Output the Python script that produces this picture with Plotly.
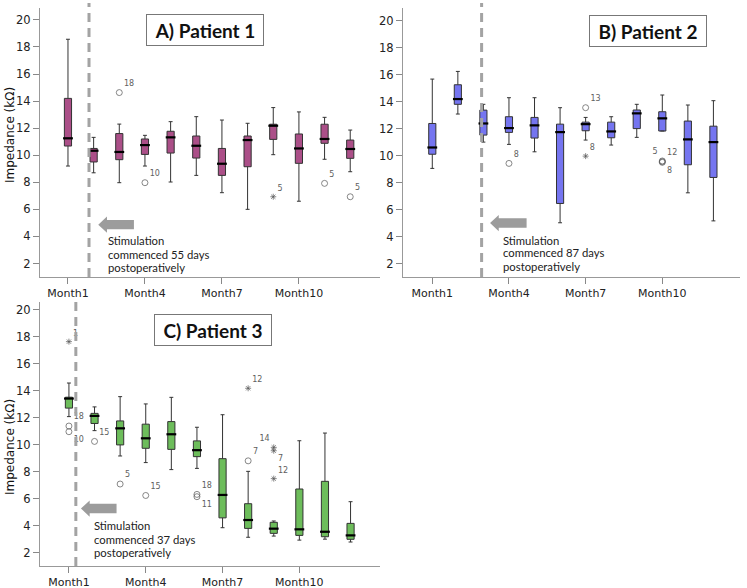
import plotly.graph_objects as go

W, H = 747, 588

months = ["Month1", "Month2", "Month3", "Month4", "Month5", "Month6",
          "Month7", "Month8", "Month9", "Month10", "Month11", "Month12"]
tick_months = ["Month1", "Month4", "Month7", "Month10"]
y_ticks = [2, 4, 6, 8, 10, 12, 14, 16, 18, 20]

# ---- Patient 1 ----
p1_q1 = [10.68, 9.50, 9.67, 10.06, 10.16, 9.79, 8.51, 9.15, 11.17, 9.40, 10.88, 9.77]
p1_med = [11.25, 10.33, 10.24, 10.75, 11.32, 10.70, 9.37, 11.12, 12.18, 10.50, 11.20, 10.46]
p1_q3 = [14.20, 10.50, 11.60, 11.20, 11.77, 11.42, 10.50, 11.42, 12.29, 11.57, 12.29, 11.12]
p1_lo = [9.20, 8.70, 7.97, 9.20, 8.02, 8.51, 7.23, 6.00, 10.04, 6.60, 9.70, 8.78]
p1_hi = [18.57, 11.32, 12.30, 11.47, 12.48, 12.85, 12.60, 12.36, 13.52, 13.20, 12.80, 11.86]
p1_out_month = ["Month3", "Month4", "Month9", "Month11", "Month12"]
p1_out_val = [14.63, 7.97, 6.93, 7.92, 6.93]
p1_out_lab = ["18", "10", "5", "5", "5"]
p1_out_sym = ["o", "o", "*", "o", "o"]
p1_out_pos = ["top right"] * 5

# ---- Patient 2 ----
p2_q1 = [10.10, 13.80, 11.52, 11.72, 11.30, 6.45, 11.84, 11.32, 12.00, 11.82, 9.32, 8.38]
p2_med = [10.60, 14.19, 12.38, 12.04, 12.24, 11.74, 12.33, 11.79, 13.13, 12.76, 11.20, 11.00]
p2_q3 = [12.38, 15.25, 13.37, 12.88, 12.83, 12.33, 12.48, 12.48, 13.38, 13.25, 12.56, 12.18]
p2_lo = [9.05, 13.08, 11.00, 10.83, 10.28, 5.02, 11.15, 10.78, 11.35, 11.82, 7.24, 5.16]
p2_hi = [15.67, 16.24, 13.80, 14.29, 14.29, 13.55, 12.83, 12.88, 13.80, 14.49, 13.75, 14.07]
p2_out_month = ["Month4", "Month7", "Month7", "Month10", "Month10", "Month10"]
p2_out_val = [9.42, 13.55, 9.96, 9.60, 9.55, 9.50]
p2_out_lab = ["8", "13", "8", "5", "12", "8"]
p2_out_sym = ["o", "o", "*", "o", "o", "o"]
p2_out_pos = ["top right", "top right", "top right", "top left", "top right", "bottom right"]

# ---- Patient 3 ----
p3_q1 = [12.72, 11.58, 9.99, 9.74, 9.66, 9.12, 4.58, 3.80, 3.43, 3.28, 3.18, 2.99]
p3_med = [13.43, 12.14, 11.22, 10.48, 10.78, 9.60, 6.28, 4.42, 3.78, 3.73, 3.55, 3.28]
p3_q3 = [13.53, 12.33, 11.77, 11.53, 11.72, 10.29, 8.97, 5.63, 4.25, 6.72, 7.29, 4.17]
p3_lo = [12.09, 11.05, 9.17, 8.68, 8.16, 8.25, 3.85, 3.14, 3.23, 2.93, 3.00, 2.79]
p3_hi = [14.58, 12.81, 13.57, 13.03, 13.52, 11.30, 12.23, 8.03, 4.35, 10.30, 10.87, 5.78]
p3_out_month = ["Month1", "Month1", "Month1", "Month2", "Month3", "Month4", "Month6", "Month6",
                "Month8", "Month8", "Month9", "Month9", "Month9"]
p3_out_val = [17.65, 11.39, 10.97, 10.25, 7.09, 6.24, 6.32, 6.15, 8.81, 14.19, 9.81, 9.56, 7.49]
p3_out_lab = ["1", "18", "10", "15", "5", "15", "18", "11", "7", "12", "14", "7", "12"]
p3_out_sym = ["*", "o", "o", "o", "o", "o", "o", "o", "o", "*", "*", "*", "*"]
p3_out_pos = ["top right", "top right", "bottom right", "top right", "top right", "top right",
              "top right", "bottom right", "top right", "top right", "top left", "bottom right",
              "top right"]

panels = [
    dict(title="A) Patient 1", color="#ab4f88", q1=p1_q1, med=p1_med, q3=p1_q3, lo=p1_lo, hi=p1_hi,
         om=p1_out_month, ov=p1_out_val, ol=p1_out_lab, osym=p1_out_sym, opos=p1_out_pos,
         days=55, xa="x", ya="y"),
    dict(title="B) Patient 2", color="#7575f0", q1=p2_q1, med=p2_med, q3=p2_q3, lo=p2_lo, hi=p2_hi,
         om=p2_out_month, ov=p2_out_val, ol=p2_out_lab, osym=p2_out_sym, opos=p2_out_pos,
         days=87, xa="x2", ya="y2"),
    dict(title="C) Patient 3", color="#6dbd5b", q1=p3_q1, med=p3_med, q3=p3_q3, lo=p3_lo, hi=p3_hi,
         om=p3_out_month, ov=p3_out_val, ol=p3_out_lab, osym=p3_out_sym, opos=p3_out_pos,
         days=37, xa="x3", ya="y3"),
]

# layout geometry (pixels) per panel
geo = [
    dict(xd=(40, 380), xr=(-1.09, 12.16), yd=(277, 8), yr=(1.0, 20.88), vline=0.82, vtop=3,
         tbox=(205.5, 29.5), ytitle=135,
         arrow=dict(tip=1.18, hb=1.52, tail=2.57, yc=4.87), txt_x=1.48, txt_y=[3.68, 2.68, 1.72]),
    dict(xd=(403, 740), xr=(-1.146, 12.04), yd=(277, 8), yr=(1.0, 20.94), vline=1.93, vtop=3,
         tbox=(648, 30.8), ytitle=None,
         arrow=dict(tip=2.26, hb=2.60, tail=3.69, yc=5.0), txt_x=2.69, txt_y=[3.73, 2.78, 1.80]),
    dict(xd=(40, 380), xr=(-1.13, 12.15), yd=(566, 302), yr=(1.01, 20.59), vline=0.27, vtop=302,
         tbox=(213.3, 330.3), ytitle=447,
         arrow=dict(tip=0.47, hb=0.81, tail=1.86, yc=5.27), txt_x=0.89, txt_y=[3.98, 2.99, 2.0]),
]

fig = go.Figure()
xpos = {m: i for i, m in enumerate(months)}
layout = {}
shapes = []
annotations = []

sym_map = {"o": "circle-open", "*": "asterisk-open"}

for i, (p, g) in enumerate(zip(panels, geo)):
    xs = [xpos[m] for m in months]
    fig.add_trace(go.Box(
        x=xs, q1=p["q1"], median=p["med"], q3=p["q3"],
        lowerfence=p["lo"], upperfence=p["hi"],
        fillcolor=p["color"], line=dict(color="#333333", width=1),
        width=0.28, whiskerwidth=0.55, boxpoints=False,
        xaxis=p["xa"], yaxis=p["ya"], showlegend=False, hoverinfo="skip"))
    # thick median bars
    fig.add_trace(go.Scatter(
        x=xs, y=p["med"], mode="markers",
        marker=dict(symbol="line-ew", size=7, line=dict(color="#000000", width=2.2)),
        xaxis=p["xa"], yaxis=p["ya"], showlegend=False, hoverinfo="skip"))
    # outliers
    sizes = [5 if s == "*" else 6 for s in p["osym"]]
    fig.add_trace(go.Scatter(
        x=[xpos[m] for m in p["om"]], y=p["ov"], mode="markers+text",
        text=p["ol"], textposition=p["opos"],
        textfont=dict(family="DejaVu Sans", size=8, color="#606060"),
        marker=dict(symbol=[sym_map[s] for s in p["osym"]], size=sizes, color="#555555",
                    line=dict(width=1, color="#555555")),
        xaxis=p["xa"], yaxis=p["ya"], showlegend=False, hoverinfo="skip", cliponaxis=False))

    sfx = "" if i == 0 else str(i + 1)
    xd = [g["xd"][0] / W, g["xd"][1] / W]
    yd = [1 - g["yd"][0] / H, 1 - g["yd"][1] / H]
    layout["xaxis" + sfx] = dict(
        domain=xd, range=list(g["xr"]), anchor="y" + sfx,
        tickvals=[xpos[m] for m in tick_months], ticktext=tick_months,
        ticks="outside", ticklen=6, tickcolor="#888888",
        showline=True, linecolor="#999999", linewidth=1,
        showgrid=False, zeroline=False,
        tickfont=dict(family="DejaVu Sans", size=11, color="#222222"))
    layout["yaxis" + sfx] = dict(
        domain=yd, range=list(g["yr"]), anchor="x" + sfx,
        tickvals=y_ticks, ticks="outside", ticklen=6, tickcolor="#888888",
        showline=True, linecolor="#999999", linewidth=1,
        showgrid=False, zeroline=False,
        tickfont=dict(family="DejaVu Sans", size=11.5, color="#222222"))

    # stimulation dashed line
    shapes.append(dict(type="line", xref=p["xa"], yref="paper",
                       x0=g["vline"], x1=g["vline"],
                       y0=1 - g["yd"][0] / H, y1=1 - g["vtop"] / H,
                       line=dict(color="#a3a3a3", width=3, dash="9px,6px"), layer="above"))
    # block arrow
    a = g["arrow"]
    sh, hh = 0.35, 0.60
    path = (f"M {a['tip']},{a['yc']} L {a['hb']},{a['yc'] + hh} L {a['hb']},{a['yc'] + sh} "
            f"L {a['tail']},{a['yc'] + sh} L {a['tail']},{a['yc'] - sh} L {a['hb']},{a['yc'] - sh} "
            f"L {a['hb']},{a['yc'] - hh} Z")
    shapes.append(dict(type="path", xref=p["xa"], yref=p["ya"], path=path,
                       fillcolor="#9c9c9c", line=dict(width=0)))
    # stimulation text
    lines = ["Stimulation", f"commenced {p['days']} days", "postoperatively"]
    for ln, yy in zip(lines, g["txt_y"]):
        annotations.append(dict(text=ln, xref=p["xa"], yref=p["ya"], x=g["txt_x"], y=yy,
                                xanchor="left", yanchor="middle", showarrow=False,
                                font=dict(family="Lato", size=11.3, color="#222222")))
    # title box
    annotations.append(dict(text="<b>" + p["title"] + "</b>", xref="paper", yref="paper",
                            x=g["tbox"][0] / W, y=1 - g["tbox"][1] / H,
                            xanchor="center", yanchor="middle", showarrow=False,
                            width=110, height=24, borderpad=3, borderwidth=1,
                            bordercolor="#777777", bgcolor="white",
                            font=dict(family="Lato", size=19, color="#111111")))
    if g["ytitle"] is not None:
        annotations.append(dict(text="Impedance (kΩ)", xref="paper", yref="paper",
                                x=10 / W, y=1 - g["ytitle"] / H, textangle=-90,
                                xanchor="center", yanchor="middle", showarrow=False,
                                font=dict(family="DejaVu Sans", size=12, color="#111111")))

fig.update_layout(
    width=W, height=H, margin=dict(l=0, r=0, t=0, b=0),
    paper_bgcolor="white", plot_bgcolor="white",
    shapes=shapes, annotations=annotations, showlegend=False,
    **layout)

fig.write_html("out.html", config={"displayModeBar": False},
               post_script="document.body.style.margin='0';document.body.style.overflow='hidden';")
